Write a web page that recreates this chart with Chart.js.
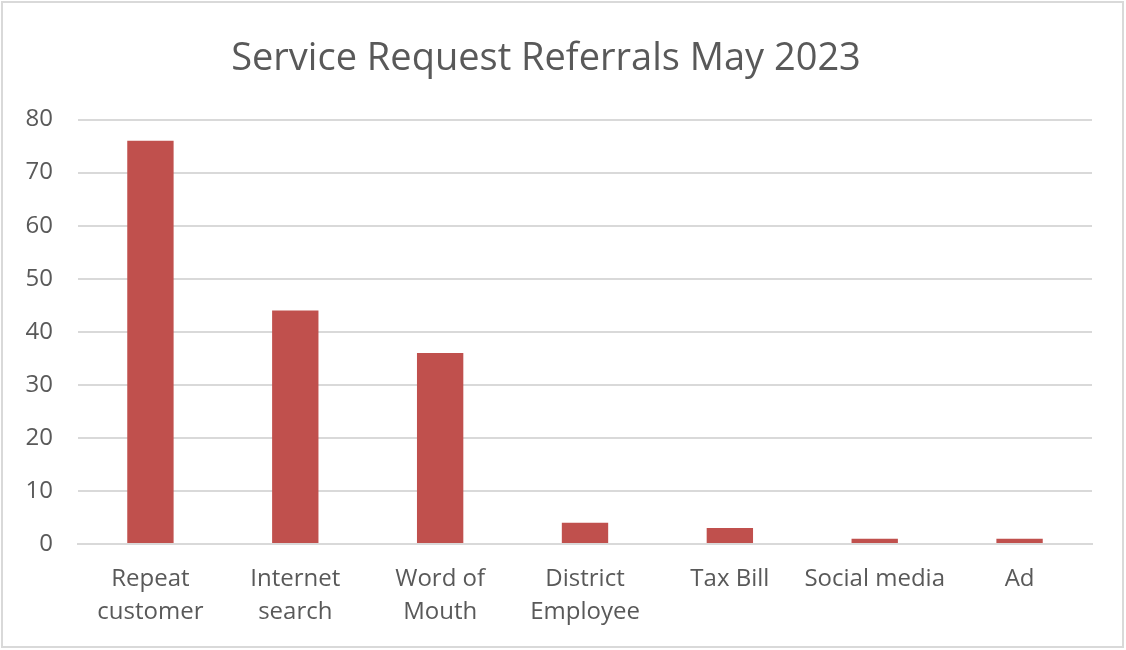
<!DOCTYPE html>
<html>
<head>
<meta charset="utf-8">
<script src="https://cdn.jsdelivr.net/npm/chart.js@4/dist/chart.umd.min.js"></script>
<style>
  html, body { margin: 0; padding: 0; background: #fff; }
  #wrap { width: 1126px; height: 650px; position: relative; }
</style>
</head>
<body>
<div id="wrap"><canvas id="referralChart"></canvas></div>
<script>
const categories = [
  ["Repeat", "customer"],
  ["Internet", "search"],
  ["Word of", "Mouth"],
  ["District", "Employee"],
  "Tax Bill",
  "Social media",
  "Ad"
];
const referrals = [76, 44, 36, 4, 3, 1, 1];
const yTicks = [0, 10, 20, 30, 40, 50, 60, 70, 80];

const textColor = "#595959";
const gridColor = "#d9d9d9";
const fontFamily = "'Open Sans', Lato, sans-serif";

// outer chart border like the Excel chart frame
const frame = {
  id: "frame",
  beforeDraw(chart) {
    const ctx = chart.ctx;
    ctx.save();
    ctx.fillStyle = "#fff";
    ctx.fillRect(0, 0, chart.width, chart.height);
    ctx.strokeStyle = gridColor;
    ctx.lineWidth = 2;
    ctx.strokeRect(2, 2, chart.width - 5, chart.height - 5);
    ctx.restore();
  }
};

const ctx = document.getElementById("referralChart").getContext("2d");
new Chart(ctx, {
  type: "bar",
  data: {
    labels: categories,
    datasets: [{
      label: "Referrals",
      data: referrals,
      backgroundColor: "#C0504D",
      barPercentage: 0.32,
      categoryPercentage: 1.0
    }]
  },
  options: {
    responsive: true,
    maintainAspectRatio: false,
    animation: false,
    layout: { padding: { left: 0, right: 34, top: 36, bottom: 2 } },
    plugins: {
      legend: { display: false },
      tooltip: { enabled: false },
      title: {
        display: true,
        text: "Service Request Referrals May 2023",
        color: textColor,
        font: { family: fontFamily, size: 38, weight: "normal" },
        padding: { top: 0, bottom: 38 }
      }
    },
    scales: {
      x: {
        grid: { display: false, drawTicks: false },
        border: { display: true, color: gridColor, width: 2 },
        ticks: {
          color: textColor,
          font: { family: fontFamily, size: 24, lineHeight: 1.375 },
          padding: 19,
          maxRotation: 0,
          autoSkip: false
        }
      },
      y: {
        min: 0,
        max: 80,
        afterBuildTicks(scale) {
          scale.ticks = yTicks.map(v => ({ value: v }));
        },
        afterFit(scale) { scale.width = 78; },
        grid: { color: gridColor, lineWidth: 2, drawTicks: false },
        border: { display: false },
        ticks: {
          color: textColor,
          font: { family: fontFamily, size: 24 },
          padding: 25
        }
      }
    }
  },
  plugins: [frame]
});
</script>
</body>
</html>
